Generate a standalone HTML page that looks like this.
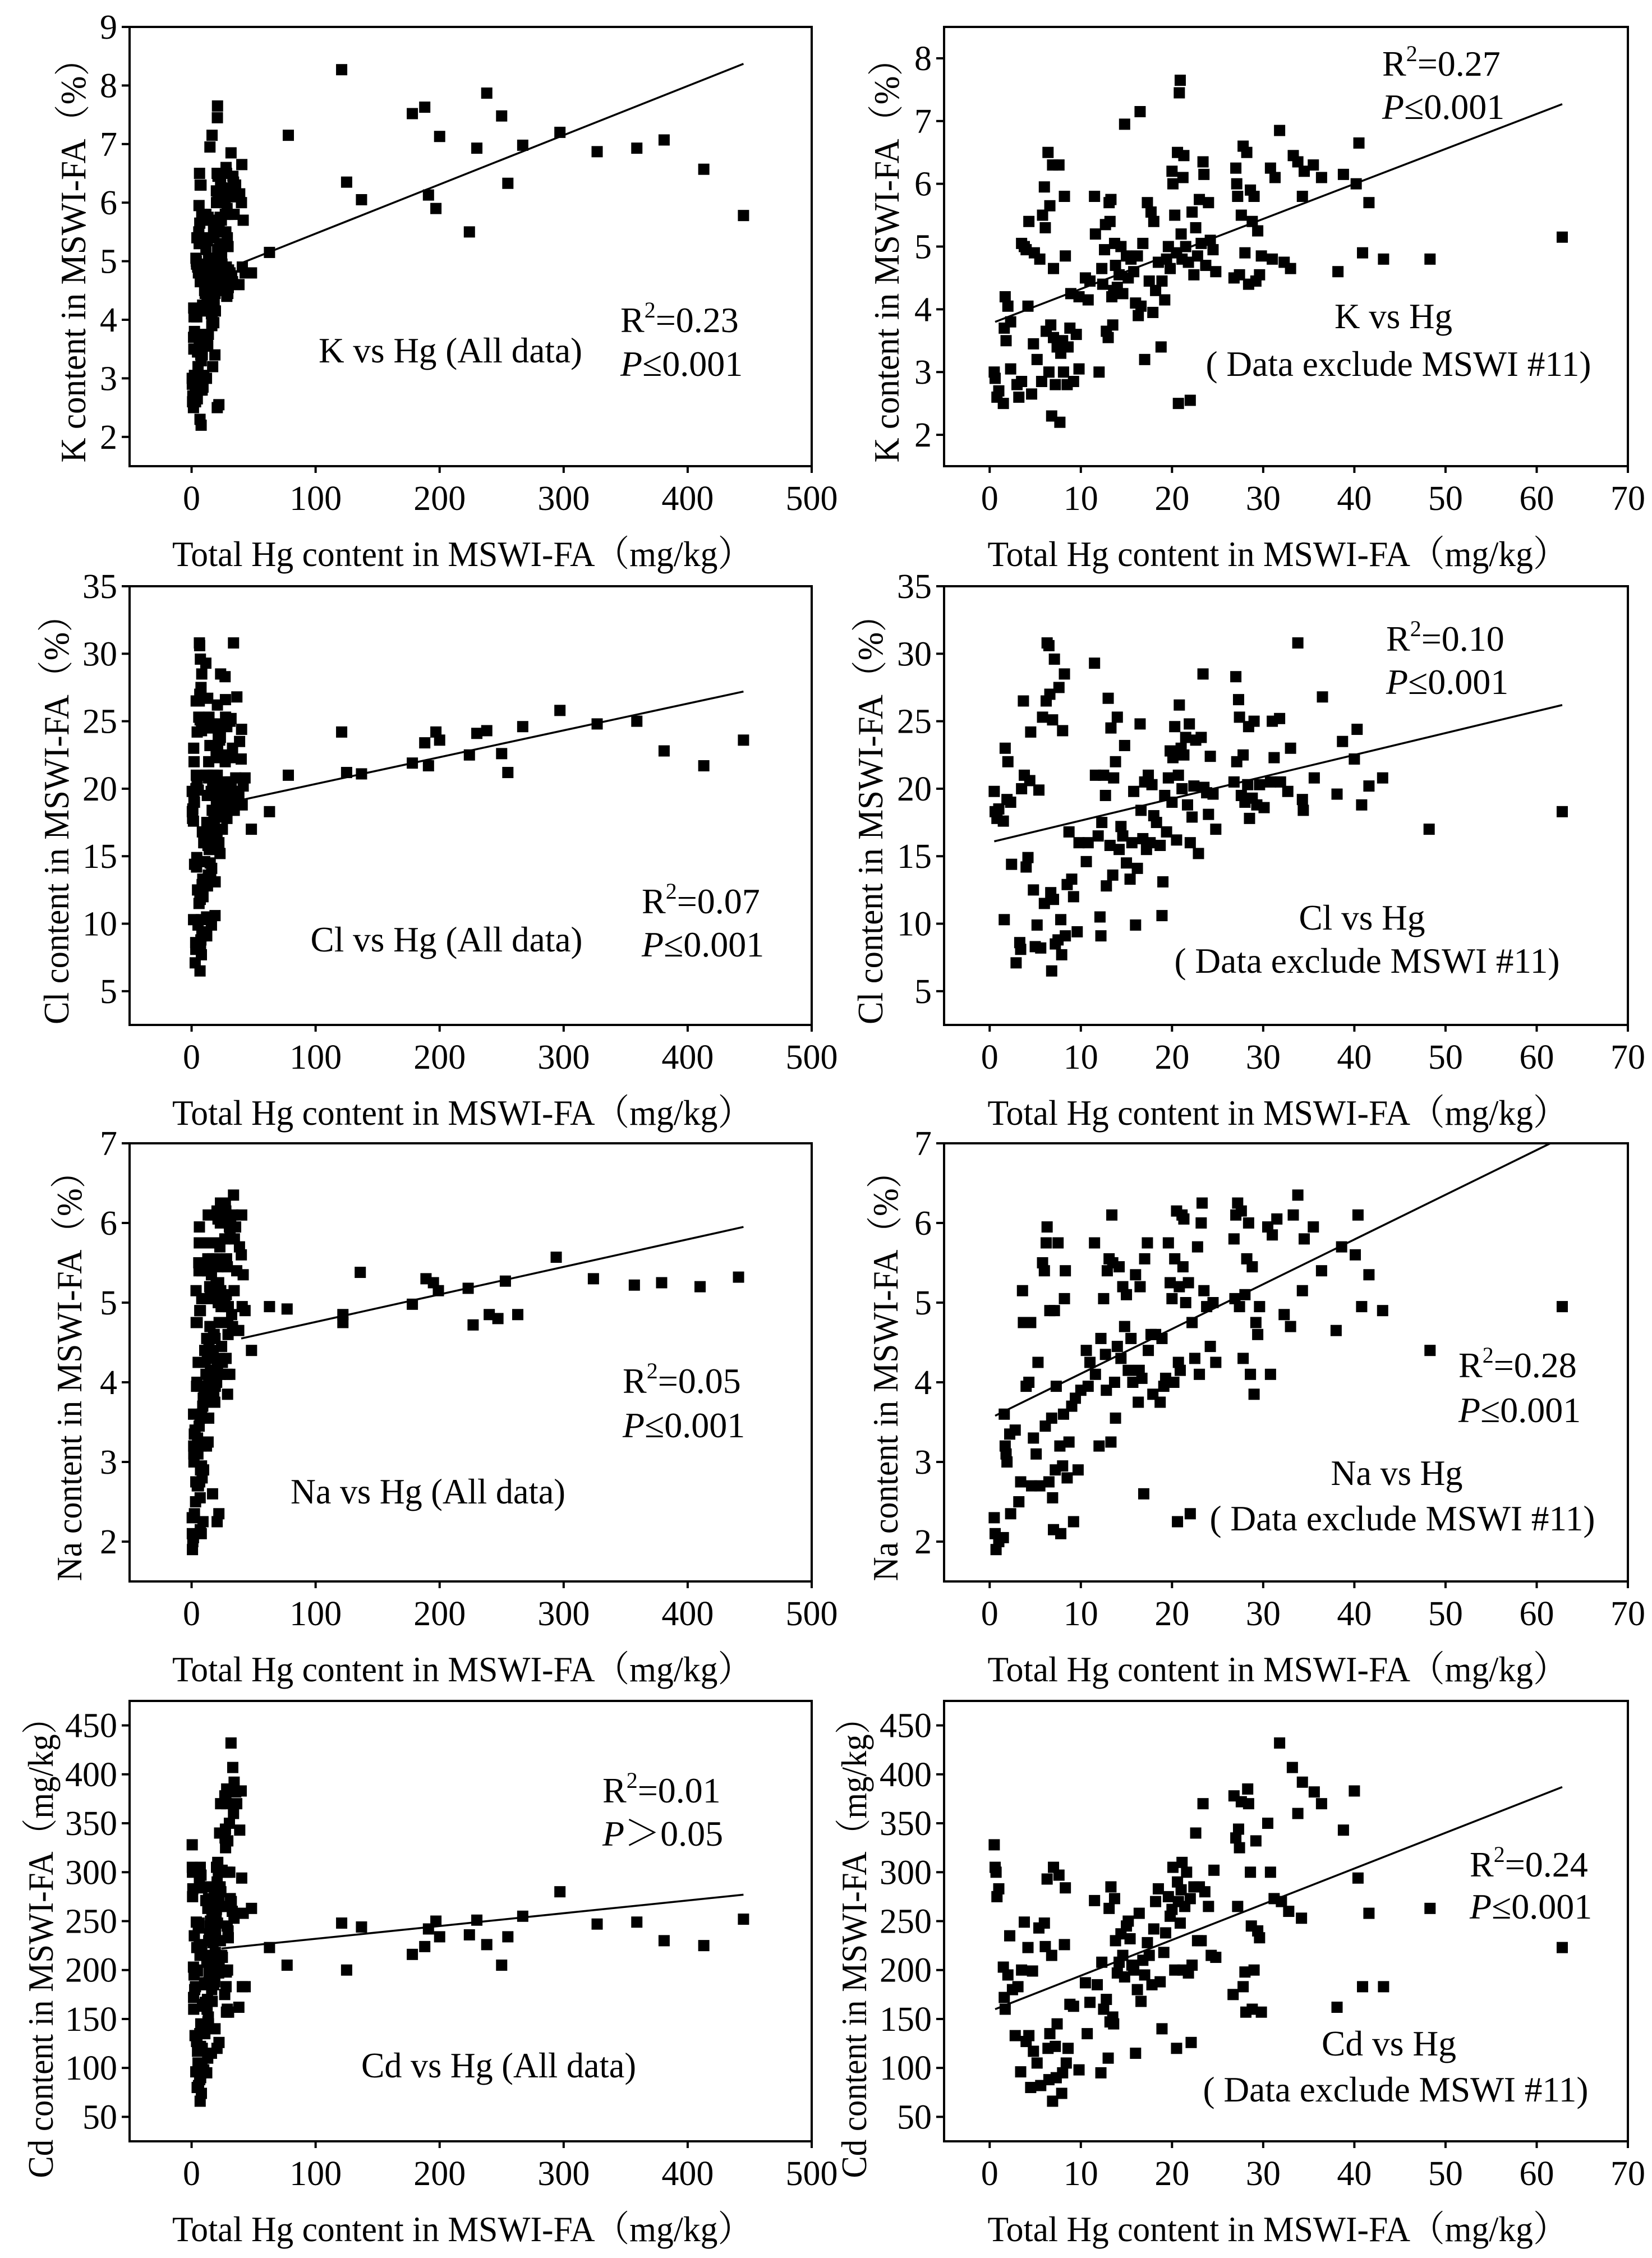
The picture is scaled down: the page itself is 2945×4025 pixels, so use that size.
<!DOCTYPE html>
<html><head><meta charset="utf-8"><style>
html,body{margin:0;padding:0;background:#fff;}
svg{display:block;font-family:"Liberation Serif","Noto Serif CJK SC",serif;}
</style></head><body>
<svg id="fig" xmlns="http://www.w3.org/2000/svg" width="2945" height="4025" viewBox="0 0 2945 4025">
<rect width="2945" height="4025" fill="#fff"/>
</svg>
<script>
// ---- data: right panels (exclude MSWI #11) ----
const kPts=[[0.5,3.0],[0.6,2.9],[0.8,2.6],[1,2.7],[1.5,2.5],[1.6,3.7],[1.7,4.2],[1.8,3.5],[2,4.05],[2.3,3.8],[2.3,3.05],[3,2.8],[3.2,2.6],[3.5,2.85],[3.5,5.05],[3.8,5.0],[4,4.95],[4.2,4.05],[4.3,5.4],[4.6,2.65],[4.8,3.45],[4.9,4.9],[5.2,3.2],[5.5,4.8],[5.7,2.85],[5.8,5.5],[6,5.95],[6.1,5.3],[6.2,3.65],[6.4,6.5],[6.5,3.0],[6.6,5.65],[6.7,3.75],[6.8,2.3],[6.9,6.3],[7,4.65],[7,3.55],[7.2,2.8],[7.4,3.4],[7.6,6.3],[7.7,2.2],[7.8,3.3],[8,3.5],[8.1,3.0],[8.2,5.8],[8.3,4.85],[8.5,2.8],[8.6,3.4],[8.8,3.7],[8.9,4.25],[9.2,2.85],[9.5,3.6],[9.8,3.05],[9.8,4.2],[10.5,4.5],[10.8,4.15],[11,4.45],[11.5,5.8],[11.6,5.2],[12,3.0],[12.3,4.65],[12.4,4.4],[12.6,4.95],[12.7,5.35],[12.8,3.65],[13,3.55],[13.1,5.7],[13.2,5.4],[13.3,5.75],[13.4,4.2],[13.5,3.75],[13.6,4.3],[13.7,5.05],[13.8,4.7],[14,4.35],[14.2,4.55],[14.4,5.0],[14.6,4.25],[14.8,6.95],[15,4.85],[15.2,4.5],[15.5,4.8],[15.8,4.6],[16,4.1],[16.2,4.85],[16.3,3.9],[16.5,7.15],[16.6,4.05],[16.8,5.05],[17,3.2],[17.3,5.7],[17.5,4.45],[17.7,5.55],[17.9,3.95],[18,5.4],[18.2,4.3],[18.5,4.75],[18.8,3.4],[18.9,4.45],[19.2,4.15],[19.4,4.8],[19.6,5.0],[19.8,4.65],[20,6.2],[20.1,6.0],[20.3,5.5],[20.5,4.9],[20.6,6.5],[20.7,2.5],[20.8,7.45],[20.9,7.65],[21,5.2],[21.1,4.8],[21.2,6.1],[21.3,6.45],[21.5,5.0],[21.8,4.75],[22,2.55],[22.2,5.55],[22.4,4.55],[22.6,5.3],[22.8,4.85],[23,5.75],[23.2,5.05],[23.4,6.35],[23.5,6.15],[23.7,4.7],[24,5.7],[24.2,5.1],[24.5,4.95],[24.8,4.6],[26.8,4.5],[27,6.25],[27.1,6.0],[27.2,5.8],[27.4,4.55],[27.6,5.5],[27.8,6.6],[28,4.9],[28.2,6.5],[28.4,4.4],[28.6,5.9],[28.8,5.4],[29,5.8],[29.2,4.45],[29.4,5.25],[29.6,4.55],[29.8,4.85],[30.8,6.25],[31,4.8],[31.3,6.1],[31.8,6.85],[32.3,4.75],[33,4.65],[33.3,6.45],[33.8,6.35],[34.3,5.8],[34.5,6.2],[35.5,6.3],[36.4,6.1],[38.2,4.6],[38.8,6.15],[40.2,6.0],[40.5,6.65],[40.9,4.9],[41.6,5.7],[43.2,4.8],[48.3,4.8],[62.8,5.15]];
const clPts=[[0.5,19.8],[0.6,18.3],[0.8,17.8],[1,18.5],[1.5,17.6],[1.6,10.3],[1.7,23],[1.9,19.2],[2,22],[2.3,19],[2.4,14.4],[2.9,7.1],[3.3,8.6],[3.4,8.1],[3.5,20],[3.7,26.5],[3.8,21],[4,14.2],[4.2,14.9],[4.4,20.6],[4.5,24.2],[4.8,12.5],[5,8.3],[5.2,9.9],[5.4,19.9],[5.6,8.2],[5.8,25.3],[6,11.5],[6.2,26.5],[6.3,30.8],[6.5,30.6],[6.6,27],[6.7,12.3],[6.8,6.5],[6.9,25.1],[7,11.8],[7.1,29.6],[7.2,8.5],[7.5,8.8],[7.6,27.5],[7.8,10.3],[7.9,7.7],[8,24.3],[8.2,28.5],[8.3,9.1],[8.5,12.9],[8.7,16.8],[9,13.3],[9.2,12],[9.6,9.4],[9.8,16],[10.6,14.6],[10.8,16],[11.5,29.3],[11.6,21],[11.9,16.5],[12.1,10.5],[12.2,9.1],[12.3,17.5],[12.5,21],[12.7,19.5],[12.8,12.8],[13,26.7],[13.2,15.8],[13.3,24.5],[13.5,13.6],[13.6,20.8],[13.8,22],[14,25.3],[14.2,15.5],[14.4,17.2],[14.6,16.5],[14.8,23.2],[15,14.5],[15.4,13.3],[15.6,16],[15.8,19.8],[16,9.9],[16.2,14.1],[16.5,24.8],[16.6,18.4],[16.8,16.3],[17,20.5],[17.2,15.5],[17.4,21],[17.6,16],[17.8,20.3],[18,18],[18.3,17.5],[18.7,15.8],[18.9,10.6],[19,13.1],[19.2,19.5],[19.4,16.8],[19.6,20.8],[19.8,22.8],[20,19],[20.1,22.3],[20.3,24.6],[20.5,16.2],[20.7,21],[20.8,26.2],[21,23],[21.1,20],[21.3,22.5],[21.5,23.8],[21.7,18.8],[21.9,24.8],[22,16],[22.2,17.9],[22.4,20.2],[22.6,23.6],[22.9,15.2],[23.2,23.8],[23.4,28.5],[23.5,20.1],[23.8,19.7],[24,18.1],[24.2,22.4],[24.5,19.6],[24.8,17],[26.8,20.5],[27,28.3],[27.1,22],[27.3,26.6],[27.4,25.3],[27.6,19.5],[27.8,22.5],[28,19],[28.3,20.3],[28.4,24.6],[28.5,17.8],[28.8,19.3],[29,25],[29.3,18.8],[29.6,20.3],[30.1,18.6],[30.8,20.5],[31,25],[31.2,22.3],[31.8,25.2],[31.9,20.5],[32.7,19.8],[33,23],[33.8,30.8],[34.3,19.2],[34.4,18.4],[35.6,20.8],[36.5,26.8],[38.1,19.6],[38.7,23.5],[40,22.2],[40.3,24.4],[40.8,18.8],[41.6,20.2],[43.1,20.8],[48.2,17],[62.8,18.3]];
const naPts=[[0.5,2.3],[0.6,2.1],[0.7,1.9],[1,2.0],[1.5,2.05],[1.6,3.6],[1.7,3.2],[1.8,3.1],[1.9,3.0],[2.2,3.35],[2.3,2.35],[2.8,3.4],[3.2,2.5],[3.4,2.75],[3.6,5.15],[3.7,4.75],[4,3.95],[4.3,4.0],[4.5,4.75],[4.6,2.7],[4.8,3.3],[5.1,3.1],[5.3,4.25],[5.5,2.7],[5.8,5.5],[6,5.4],[6.1,3.45],[6.2,5.75],[6.3,5.95],[6.5,2.75],[6.6,4.9],[6.8,3.55],[6.9,2.55],[7,2.15],[7.1,4.9],[7.2,2.9],[7.3,3.95],[7.5,5.75],[7.7,3.2],[7.8,2.1],[8,2.95],[8.1,3.6],[8.2,5.05],[8.3,5.4],[8.5,2.8],[8.7,3.25],[9,3.7],[9.2,2.25],[9.4,3.8],[9.7,2.9],[10,3.9],[10.6,4.4],[10.8,3.95],[11,4.25],[11.5,5.75],[11.6,4.1],[12,3.2],[12.2,4.55],[12.5,5.05],[12.7,4.35],[12.8,3.9],[12.9,5.4],[13.1,5.55],[13.3,3.25],[13.4,6.1],[13.5,5.5],[13.7,4.0],[13.8,3.55],[14,4.45],[14.2,5.45],[14.4,4.3],[14.6,5.2],[14.8,4.7],[15,5.1],[15.2,4.15],[15.5,4.55],[15.7,4.0],[16,5.35],[16.3,3.75],[16.4,4.15],[16.5,5.2],[16.7,4.05],[16.9,2.6],[17,5.55],[17.3,5.75],[17.4,4.4],[17.7,4.6],[17.9,3.85],[18.2,4.6],[18.7,3.75],[18.9,4.55],[19.1,3.95],[19.3,4.05],[19.6,5.75],[19.8,5.25],[20,5.05],[20.2,4.0],[20.3,5.55],[20.5,6.15],[20.6,2.25],[20.7,4.25],[20.8,5.2],[20.9,4.15],[21.1,6.1],[21.2,5.45],[21.3,6.05],[21.5,5.0],[21.8,5.25],[22,2.35],[22.2,4.75],[22.5,4.3],[22.8,5.7],[23,4.1],[23.2,6.0],[23.3,6.25],[23.5,5.15],[23.8,4.95],[24.2,4.45],[24.5,5.0],[24.8,4.25],[26.8,5.8],[26.9,5.05],[27,6.1],[27.2,6.25],[27.4,4.95],[27.6,6.15],[27.8,4.3],[28,5.1],[28.2,5.55],[28.4,6.0],[28.6,4.1],[28.8,5.45],[29,3.85],[29.2,4.75],[29.4,4.6],[29.6,4.95],[30.5,5.95],[30.8,4.1],[31,5.85],[31.5,6.05],[32.3,4.85],[33,4.7],[33.3,6.1],[33.8,6.35],[34.3,5.15],[34.5,5.8],[35.5,5.95],[36.4,5.4],[38,4.65],[38.6,5.7],[40.1,5.6],[40.4,6.1],[40.8,4.95],[41.6,5.35],[43.1,4.9],[48.3,4.4],[62.8,4.95]];
const cdPts=[[0.5,328],[0.6,305],[0.7,300],[0.8,275],[1,283],[1.5,203],[1.6,172],[1.7,160],[2,195],[2.2,235],[2.5,180],[2.8,133],[3.1,183],[3.4,96],[3.5,200],[3.8,249],[4,127],[4.2,223],[4.3,133],[4.5,80],[4.7,199],[4.8,117],[5.2,105],[5.4,243],[5.6,82],[6,248],[6.1,224],[6.3,293],[6.4,120],[6.5,88],[6.6,135],[6.8,215],[6.9,66],[7,305],[7.2,122],[7.3,90],[7.4,145],[7.6,297],[7.9,74],[8,95],[8.2,226],[8.3,284],[8.4,105],[8.6,120],[8.8,165],[9.2,163],[9.8,98],[10.5,187],[10.7,135],[11,167],[11.5,271],[11.8,185],[12.2,95],[12.3,208],[12.5,160],[12.8,170],[13,110],[13.1,263],[13.2,147],[13.3,285],[13.5,152],[13.6,145],[13.7,273],[13.8,230],[14,197],[14.2,208],[14.4,237],[14.6,215],[14.8,193],[15,245],[15.2,250],[15.4,232],[15.6,205],[15.8,200],[16,115],[16.2,180],[16.4,258],[16.6,168],[16.8,210],[17,195],[17.3,228],[17.5,215],[17.8,185],[18,242],[18.2,270],[18.5,283],[18.7,188],[18.9,140],[19.1,218],[19.3,238],[19.6,275],[19.8,255],[20,262],[20.1,305],[20.3,200],[20.5,120],[20.6,290],[20.7,270],[20.9,248],[21,282],[21.1,310],[21.2,200],[21.4,265],[21.6,300],[21.8,197],[22,273],[22.1,126],[22.2,205],[22.4,285],[22.6,340],[22.8,230],[23,285],[23.2,230],[23.4,370],[23.6,280],[24,265],[24.3,215],[24.6,302],[24.8,213],[26.7,175],[26.8,378],[27,335],[27.2,265],[27.3,344],[27.4,325],[27.6,372],[27.8,183],[28,198],[28.1,157],[28.3,385],[28.4,370],[28.6,300],[28.7,245],[28.8,160],[29,200],[29.2,332],[29.4,240],[29.6,233],[29.8,157],[30.5,350],[30.8,300],[31.2,273],[31.8,432],[32,270],[32.8,260],[33.2,407],[33.8,360],[34.2,253],[34.3,392],[35.6,382],[36.4,370],[38.1,162],[38.8,343],[40,383],[40.4,294],[40.9,183],[41.6,258],[43.2,183],[48.3,263],[62.8,223]];
// ---- MSWI #11 points (only in "All data" panels) ----
const kOut=[[78,7.15],[121,8.27],[125,6.35],[137,6.05],[178,7.52],[188,7.63],[191,6.13],[197,5.9],[200,7.13],[224,5.5],[230,6.93],[238,7.87],[250,7.48],[255,6.33],[267,6.98],[297,7.2],[327,6.87],[359,6.93],[381,7.07],[413,6.57],[445,5.78]];
const clOut=[[78,21],[121,24.2],[125,21.2],[137,21.1],[178,21.9],[188,23.4],[191,21.7],[197,24.2],[200,23.6],[224,22.5],[230,24.1],[238,24.3],[250,22.6],[255,21.2],[267,24.6],[297,25.8],[327,24.8],[359,25],[381,22.8],[413,21.7],[445,23.6]];
const naOut=[[77,4.92],[122,4.85],[122,4.75],[136,5.38],[178,4.98],[189,5.3],[195,5.25],[199,5.15],[223,5.18],[227,4.72],[240,4.85],[247,4.8],[253,5.27],[263,4.85],[294,5.57],[324,5.3],[357,5.22],[379,5.25],[410,5.2],[441,5.32]];
const cdOut=[[77,205],[121,248],[125,200],[137,244],[178,216],[188,224],[191,242],[197,250],[200,234],[224,236],[230,251],[238,226],[250,205],[255,234],[267,255],[297,280],[327,247],[359,249],[381,230],[413,225],[445,252]];
// ---- fit lines (endpoints in data units) ----
const kAllFit=[[38,4.95],[445,8.37]];
const kExFit=[[0.6,3.8],[62.8,7.27]];
const clAllFit=[[42,19.2],[445,27.2]];
const clExFit=[[0.5,16.1],[62.8,26.2]];
const naAllFit=[[40,4.55],[445,5.95]];
const naExFit=[[0.6,3.58],[61.5,7.0]];
const cdAllFit=[[24,222],[445,277]];
const cdExFit=[[0.6,160],[62.8,387]];
// ---- ticks ----
const xTicksAll=[0,100,200,300,400,500];
const xTicksEx=[0,10,20,30,40,50,60,70];
const kYTicksAll=[2,3,4,5,6,7,8,9];
const kYTicksEx=[2,3,4,5,6,7,8];
const clYTicks=[5,10,15,20,25,30,35];
const naYTicks=[2,3,4,5,6,7];
const cdYTicks=[50,100,150,200,250,300,350,400,450];

const NS='http://www.w3.org/2000/svg';
const svg=document.getElementById('fig');
function mk(tag,attrs,parent){const e=document.createElementNS(NS,tag);for(const k in attrs)e.setAttribute(k,attrs[k]);(parent||svg).appendChild(e);return e;}

const L={x0:231,x1:1447,xmin:-50,xmax:500}, R={x0:1683,x1:2902,xmin:-5,xmax:70};
const rows=[{y0:48,y1:831},{y0:1045,y1:1827},{y0:2038,y1:2819},{y0:3032,y1:3817}];
const panels=[
 {name:'k-all',col:L,row:0,ymin:1.5,ymax:9,pts:kPts.concat(kOut),fit:kAllFit,xt:xTicksAll,yt:kYTicksAll,ytitle:'K content in MSWI-FA（%）',ytx:130,ylen:750,ycOff:10,
  r2:['0.23',1106,592],p:['≤0.001',1106,670],lab:[['K vs Hg (All data)',803,646,470]]},
 {name:'k-exclude',col:R,row:0,ymin:1.5,ymax:8.5,pts:kPts,fit:kExFit,xt:xTicksEx,yt:kYTicksEx,ytitle:'K content in MSWI-FA（%）',ytx:1580,ylen:750,ycOff:10,
  r2:['0.27',2464,135],p:['≤0.001',2464,212],lab:[['K vs Hg',2484,585,210],['( Data exclude MSWI #11)',2493,670,687]]},
 {name:'cl-all',col:L,row:1,ymin:2.5,ymax:35,pts:clPts.concat(clOut),fit:clAllFit,xt:xTicksAll,yt:clYTicks,ytitle:'Cl content in MSWI-FA（%）',ytx:100,ylen:760,ycOff:10,
  r2:['0.07',1144,1628],p:['≤0.001',1144,1705],lab:[['Cl vs Hg (All data)',796,1696,485]]},
 {name:'cl-exclude',col:R,row:1,ymin:2.5,ymax:35,pts:clPts,fit:clExFit,xt:xTicksEx,yt:clYTicks,ytitle:'Cl content in MSWI-FA（%）',ytx:1551,ylen:760,ycOff:10,
  r2:['0.10',2471,1160],p:['≤0.001',2471,1237],lab:[['Cl vs Hg',2428,1657,225],['( Data exclude MSWI #11)',2437,1734,687]]},
 {name:'na-all',col:L,row:2,ymin:1.5,ymax:7,pts:naPts.concat(naOut),fit:naAllFit,xt:xTicksAll,yt:naYTicks,ytitle:'Na content in MSWI-FA（%）',ytx:123,ylen:760,ycOff:10,
  r2:['0.05',1110,2483],p:['≤0.001',1110,2562],lab:[['Na vs Hg (All data)',763,2680,490]]},
 {name:'na-exclude',col:R,row:2,ymin:1.5,ymax:7,pts:naPts,fit:naExFit,xt:xTicksEx,yt:naYTicks,ytitle:'Na content in MSWI-FA（%）',ytx:1578,ylen:760,ycOff:10,
  r2:['0.28',2600,2455],p:['≤0.001',2600,2535],lab:[['Na vs Hg',2490,2647,235],['( Data exclude MSWI #11)',2500,2728,687]]},
 {name:'cd-all',col:L,row:3,ymin:25,ymax:475,pts:cdPts.concat(cdOut),fit:cdAllFit,xt:xTicksAll,yt:cdYTicks,ytitle:'Cd content in MSWI-FA（mg/kg）',ytx:72,ylen:850,ycOff:33,
  r2:['0.01',1074,3213],p:['＞0.05',1074,3290],lab:[['Cd vs Hg (All data)',889,3703,490]]},
 {name:'cd-exclude',col:R,row:3,ymin:25,ymax:475,pts:cdPts,fit:cdExFit,xt:xTicksEx,yt:cdYTicks,ytitle:'Cd content in MSWI-FA（mg/kg）',ytx:1522,ylen:850,ycOff:33,
  r2:['0.24',2620,3345],p:['≤0.001',2620,3420],lab:[['Cd vs Hg',2476,3664,240],['( Data exclude MSWI #11)',2488,3746,687]]}
];

panels.forEach(P=>{
  const c=P.col, r=rows[P.row];
  const sx=v=>c.x0+(v-c.xmin)/(c.xmax-c.xmin)*(c.x1-c.x0);
  const sy=v=>r.y1-(v-P.ymin)/(P.ymax-P.ymin)*(r.y1-r.y0);
  const g=mk('g',{});
  
  
  const pg=mk('g',{fill:'#000'},g);
  
  
  P.pts.forEach(d=>{
    const s=mk('rect',{x:sx(d[0])-10,y:sy(d[1])-10,width:20,height:20},pg);
    
    
  });
  const fl=mk('line',{x1:sx(P.fit[0][0]),y1:sy(P.fit[0][1]),x2:sx(P.fit[1][0]),y2:sy(P.fit[1][1]),stroke:'#000','stroke-width':3.5},g);
  
  
  const fr=mk('rect',{x:c.x0,y:r.y0,width:c.x1-c.x0,height:r.y1-r.y0,fill:'none',stroke:'#000','stroke-width':4},g);
  
  
  P.xt.forEach(v=>{
    const x=sx(v);
    const t=mk('line',{x1:x,y1:r.y1,x2:x,y2:r.y1+12,stroke:'#000','stroke-width':4},g);
    
    
    const tl=mk('text',{x:x,y:r.y1+78,'font-size':62,'text-anchor':'middle'},g);
    tl.textContent=v;
    
    
  });
  P.yt.forEach(v=>{
    const y=sy(v);
    const t=mk('line',{x1:c.x0-14,y1:y,x2:c.x0,y2:y,stroke:'#000','stroke-width':4},g);
    
    
    const tl=mk('text',{x:c.x0-22,y:y+21,'font-size':62,'text-anchor':'end'},g);
    tl.textContent=v;
    
    
  });
  const xt=mk('text',{x:(c.x0+c.x1)/2-15,y:r.y1+178,'font-size':64,'text-anchor':'middle',textLength:1034,lengthAdjust:'spacingAndGlyphs'},g);
  xt.textContent='Total Hg content in MSWI-FA（mg/kg）';
  
  
  const yc=(r.y0+r.y1)/2+P.ycOff;
  const yt=mk('text',{x:0,y:0,'font-size':64,'text-anchor':'middle',textLength:P.ylen,lengthAdjust:'spacingAndGlyphs',transform:'translate('+(P.ytx+22)+','+yc+') rotate(-90)'},g);
  yt.textContent=P.ytitle;
  
  
  const r2=mk('text',{x:P.r2[1],y:P.r2[2],'font-size':64},g);
  
  
  r2.innerHTML='R<tspan font-size="40" dy="-26">2</tspan><tspan dy="26">='+P.r2[0]+'</tspan>';
  const pp=mk('text',{x:P.p[1],y:P.p[2],'font-size':64},g);
  
  
  pp.innerHTML='<tspan font-style="italic">P</tspan>'+P.p[0];
  P.lab.forEach(l=>{
    const t=mk('text',{x:l[1],y:l[2],'font-size':64,'text-anchor':'middle',textLength:l[3],lengthAdjust:'spacingAndGlyphs'},g);
    t.textContent=l[0];
    
    
  });
});
</script>
</body></html>
